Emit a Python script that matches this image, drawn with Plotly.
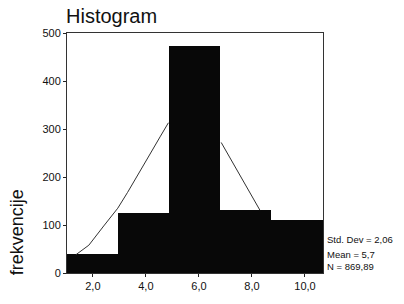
import plotly.graph_objects as go

# Histogram data
bin_centers = [1.98, 3.91, 5.84, 7.77, 9.70]
counts = [40, 124, 473, 131, 110]
bin_width = 1.93

# Normal curve, visible parts
curve_left_x = [1.36, 1.85, 2.41, 2.94, 3.31, 3.69, 4.18, 4.55, 4.85]
curve_left_y = [38, 58, 98, 135, 168, 205, 250, 285, 313]
curve_right_x = [6.84, 7.55, 8.30]
curve_right_y = [272, 202, 131]

x_ticks = [2, 4, 6, 8, 10]
x_ticklabels = ["2,0", "4,0", "6,0", "8,0", "10,0"]
y_ticks = [0, 100, 200, 300, 400, 500]

stats = ["Std. Dev = 2,06", "Mean = 5,7", "N = 869,89"]

FONT = "Liberation Sans, Arial, sans-serif"

fig = go.Figure()
fig.add_trace(go.Bar(x=bin_centers, y=counts, width=[bin_width] * len(counts),
                     marker=dict(color="#080808", line=dict(width=0)),
                     showlegend=False, hoverinfo="skip"))
fig.add_trace(go.Scatter(x=curve_left_x, y=curve_left_y, mode="lines",
                         line=dict(color="#333333", width=1),
                         showlegend=False, hoverinfo="skip"))
fig.add_trace(go.Scatter(x=curve_right_x, y=curve_right_y, mode="lines",
                         line=dict(color="#333333", width=1),
                         showlegend=False, hoverinfo="skip"))

stat_y = [0.139, 0.079, 0.028]
annotations = [
    dict(text="frekvencije", xref="paper", yref="paper", x=-0.195, y=0.17,
         textangle=-90, showarrow=False, xanchor="center", yanchor="middle",
         font=dict(family=FONT, size=18, color="#111111")),
]
for s, yy in zip(stats, stat_y):
    annotations.append(dict(text=s, xref="paper", yref="paper", x=1.008, y=yy,
                            showarrow=False, xanchor="left", yanchor="middle",
                            font=dict(family=FONT, size=9.5, color="#111111")))

fig.update_layout(
    width=404, height=304,
    margin=dict(l=67, r=81, t=33, b=19),
    paper_bgcolor="white", plot_bgcolor="white",
    bargap=0,
    title=dict(text="Histogram", x=66 / 404, xanchor="left", xref="container",
               y=1 - 16 / 304, yanchor="middle",
               font=dict(family=FONT, size=20, color="#111111")),
    xaxis=dict(range=[1.025, 10.68], tickvals=x_ticks, ticktext=x_ticklabels,
               ticks="outside", ticklen=3, tickcolor="#222", showgrid=False,
               zeroline=False, showline=True, linecolor="#333", linewidth=1,
               mirror=True, tickfont=dict(family=FONT, size=11, color="#111111")),
    yaxis=dict(range=[0, 500], tickvals=y_ticks, ticks="outside", ticklen=3,
               tickcolor="#222", showgrid=False, zeroline=False, showline=True,
               linecolor="#333", linewidth=1, mirror=True,
               tickfont=dict(family=FONT, size=11, color="#111111")),
    annotations=annotations,
)

fig.write_html("out.html", config={"displayModeBar": False},
               post_script="document.body.style.margin='0';document.body.style.overflow='hidden';")
